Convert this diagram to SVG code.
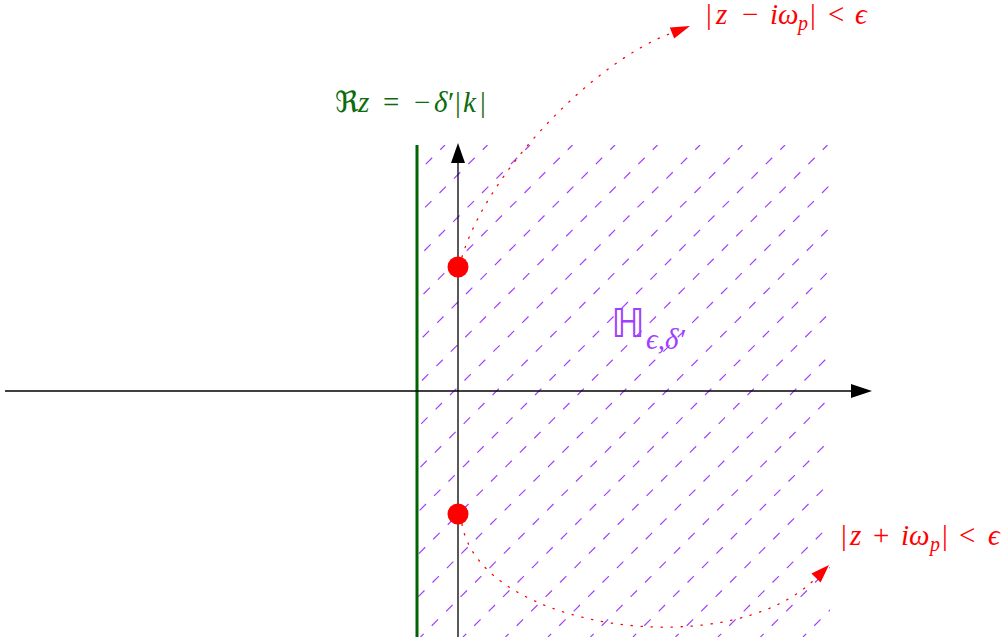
<svg xmlns="http://www.w3.org/2000/svg" width="1008" height="642" viewBox="0 0 1008 642">
<style>
.m{font-family:"Liberation Serif","DejaVu Serif","DejaVu Sans",serif;font-size:29px}
.i{font-style:italic}
.red{fill:#ff0000}
.grn{fill:#0d6b0d}
.vio{fill:#a040ff}
.hatch line{stroke:#a040ff;stroke-width:1.2;stroke-dasharray:9 11.4;stroke-dashoffset:4.5}
.ax{stroke:#000;stroke-width:1.3;fill:none}
.dot{fill:#ff0000}
.conn{fill:none;stroke:#ff0000;stroke-width:1.3;stroke-dasharray:1.3 8.7;stroke-linecap:round}
.head{fill:#ff0000}
</style>
<defs>
<clipPath id="region"><rect x="417" y="145" width="413" height="492"/></clipPath>
</defs>
<rect width="1008" height="642" fill="#fff"/>
<g id="hatch" class="hatch" clip-path="url(#region)">
<line x1="-47" y1="637" x2="445" y2="145"/>
<line x1="-4.5" y1="637" x2="487.5" y2="145"/>
<line x1="38" y1="637" x2="530" y2="145"/>
<line x1="80.5" y1="637" x2="572.5" y2="145"/>
<line x1="123" y1="637" x2="615" y2="145"/>
<line x1="165.5" y1="637" x2="657.5" y2="145"/>
<line x1="208" y1="637" x2="700" y2="145"/>
<line x1="250.5" y1="637" x2="742.5" y2="145"/>
<line x1="293" y1="637" x2="785" y2="145"/>
<line x1="335.5" y1="637" x2="827.5" y2="145"/>
<line x1="378" y1="637" x2="870" y2="145"/>
<line x1="420.5" y1="637" x2="912.5" y2="145"/>
<line x1="463" y1="637" x2="955" y2="145"/>
<line x1="505.5" y1="637" x2="997.5" y2="145"/>
<line x1="548" y1="637" x2="1040" y2="145"/>
<line x1="590.5" y1="637" x2="1082.5" y2="145"/>
<line x1="633" y1="637" x2="1125" y2="145"/>
<line x1="675.5" y1="637" x2="1167.5" y2="145"/>
<line x1="718" y1="637" x2="1210" y2="145"/>
<line x1="760.5" y1="637" x2="1252.5" y2="145"/>
<line x1="803" y1="637" x2="1295" y2="145"/>
</g>
<g id="boundary">
<line x1="417" y1="145" x2="417" y2="637" stroke="#006400" stroke-width="3"/>
</g>
<g id="axes">
<line class="ax" x1="5" y1="391" x2="853" y2="391"/>
<polygon points="872,391 851,384 851,398" fill="#000"/>
<line class="ax" x1="458" y1="637" x2="458" y2="160"/>
<polygon points="458,143 451,163 465,163" fill="#000"/>
</g>
<g id="connectors">
<path class="conn" d="M462,257 C488,170 596,60 672,33"/>
<polygon class="head" points="690,26 669.8,27.4 674.2,38.6"/>
<path class="conn" d="M462,524 C480,630 730,665 816,578"/>
<polygon class="head" points="829,565 811.4,573.4 820.6,582.6"/>
</g>
<g id="pole-upper"><circle class="dot" cx="458" cy="267" r="10.5"/></g>
<g id="pole-lower"><circle class="dot" cx="458" cy="514" r="10.5"/></g>
<g id="label-upper">
<text class="m red" y="24"><tspan x="706">|</tspan><tspan x="716" class="i">z</tspan><tspan x="742">−</tspan><tspan x="770" class="i">iω</tspan><tspan x="798" class="i" dy="6" font-size="20">p</tspan><tspan x="810" dy="-6">|</tspan><tspan x="828">&lt;</tspan><tspan x="855" class="i">ϵ</tspan></text>
</g>
<g id="label-lower">
<text class="m red" y="545"><tspan x="841">|</tspan><tspan x="850" class="i">z</tspan><tspan x="873">+</tspan><tspan x="901" class="i">iω</tspan><tspan x="930" class="i" dy="6" font-size="20">p</tspan><tspan x="942" dy="-6">|</tspan><tspan x="959">&lt;</tspan><tspan x="988" class="i">ϵ</tspan></text>
</g>
<g id="label-boundary">
<text class="m grn" y="112"><tspan x="335">ℜ</tspan><tspan x="358" class="i">z</tspan><tspan x="383">=</tspan><tspan x="414">−</tspan><tspan x="434" class="i">δ</tspan><tspan x="448">′</tspan><tspan x="455">|</tspan><tspan x="463" class="i">k</tspan><tspan x="480">|</tspan></text>
</g>
<g id="label-region">
<text class="vio" font-family="DejaVu Sans, sans-serif" font-size="40" x="611" y="337">ℍ</text>
<text class="m vio i" font-size="24" x="646" y="349">ϵ,δ′</text>
</g>
</svg>
